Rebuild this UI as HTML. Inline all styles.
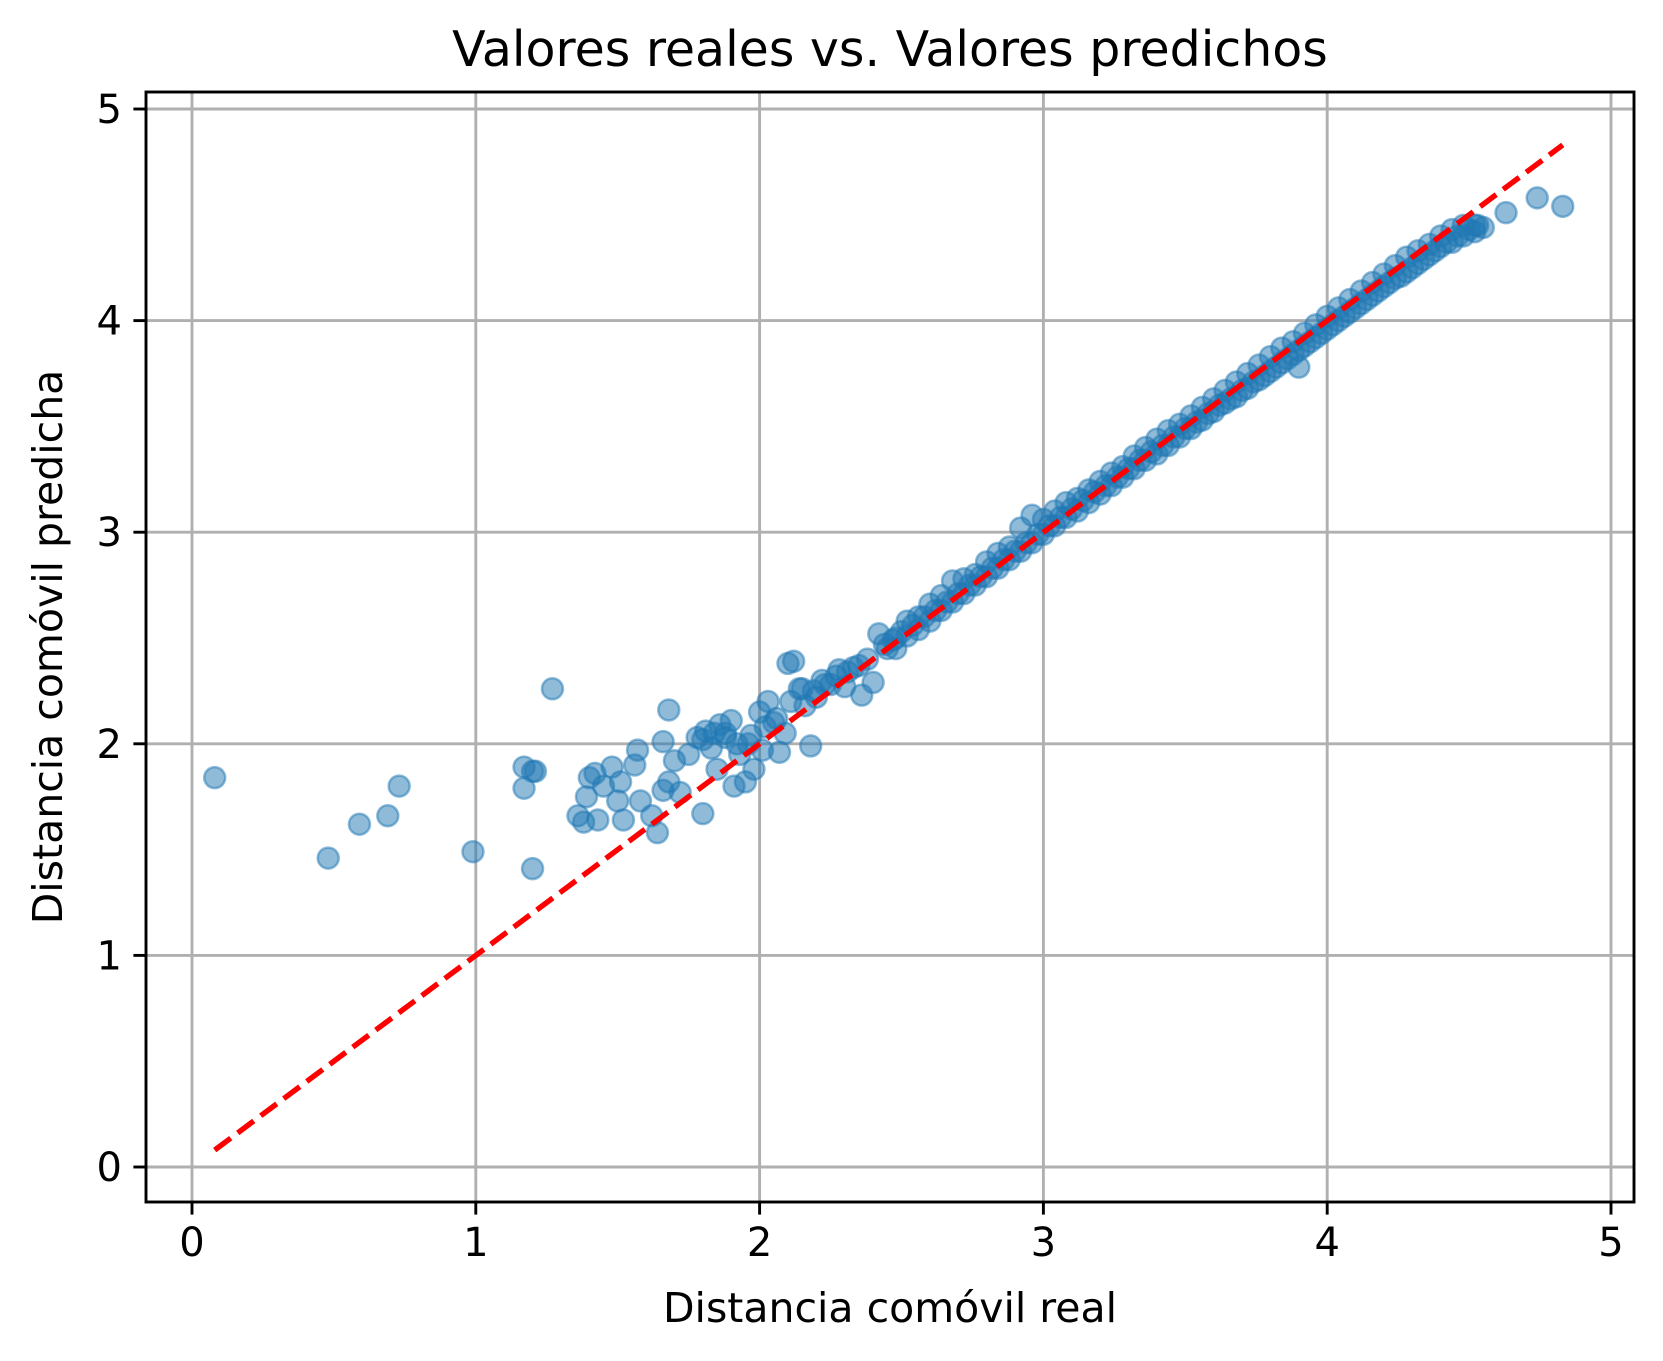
<!DOCTYPE html>
<html><head><meta charset="utf-8"><style>
html,body{margin:0;padding:0;background:#fff;}
svg{display:block;font-family:"DejaVu Sans","Liberation Sans",sans-serif;}
</style></head><body>
<svg id="chart" width="1663" height="1361" viewBox="0 0 1663 1361">
<rect x="0" y="0" width="1663" height="1361" fill="#fff"/>
<g id="grid"></g>
<g id="points"></g>
<g id="ideal"></g>
<rect x="146" y="92" width="1488" height="1110" fill="none" stroke="#000" stroke-width="2.9"/>
<g id="ticks"></g>
<text x="890" y="66" text-anchor="middle" font-size="49">Valores reales vs. Valores predichos</text>
<text x="890" y="1322" text-anchor="middle" font-size="41">Distancia comóvil real</text>
<text x="0" y="0" transform="translate(62,647) rotate(-90)" text-anchor="middle" font-size="41">Distancia comóvil predicha</text>
</svg>
<script>
const xTicks=[0,1,2,3,4,5];
const yTicks=[0,1,2,3,4,5];
const lineRange=[0.08,4.83];
const realX=[0.08,0.48,0.59,0.69,0.73,0.99,1.17,1.17,1.20,1.21,1.20,1.27,1.36,1.38,1.39,1.40,1.42,1.43,1.45,1.48,1.50,1.51,1.52,1.56,1.57,1.58,1.62,1.64,1.66,1.66,1.68,1.68,1.70,1.72,1.75,1.78,1.80,1.81,1.83,1.85,1.86,1.88,1.90,1.91,1.93,1.95,1.96,1.98,2.00,2.01,2.03,2.05,2.07,2.09,2.10,2.12,2.14,2.16,2.18,2.20,2.22,2.25,2.28,2.30,2.33,2.36,2.40,2.42,2.45,
2.48,2.48,2.52,2.52,2.56,2.56,2.60,2.60,2.64,2.64,2.68,2.68,2.72,2.72,2.76,2.76,2.80,2.80,2.84,2.84,2.88,2.88,2.92,2.92,2.96,2.96,3.00,3.00,3.04,3.04,3.08,3.08,3.12,3.12,3.16,3.16,3.20,3.20,3.24,3.24,3.28,3.28,3.32,3.32,3.36,3.36,3.40,3.40,3.44,3.44,3.48,3.48,3.52,3.52,3.56,3.56,3.60,3.60,3.64,3.64,3.68,3.68,3.72,3.72,3.76,3.76,3.80,3.80,3.84,3.84,3.88,3.88,3.92,3.92,3.96,3.96,4.00,4.00,4.04,4.04,4.08,4.08,4.12,4.12,4.16,4.16,4.20,4.20,4.24,4.24,4.28,4.28,4.32,4.32,4.36,4.36,4.40,4.40,4.44,4.44,4.48,4.48,4.52,4.52,4.55,3.90,4.63,4.74,4.83,
1.80,1.84,1.88,1.92,1.97,2.02,2.06,2.11,2.15,2.19,2.23,2.27,2.31,2.35,2.38,2.44,2.47,2.50,2.54,2.58,2.62,2.66,2.70,2.74,2.78,2.82,2.86,2.90,2.94,2.98,3.02,3.06,3.10,3.14,3.18,3.22,3.26,3.30,3.34,3.38,3.42,3.46,3.50,3.54,3.58,3.62,3.66,3.70,3.74,3.78,3.82,3.86,3.90,3.94,3.98,4.02,4.06,4.10,4.14,4.18,4.22,4.26,4.30,4.34,4.38,4.42,4.46,4.50,4.53];
const predY=[1.84,1.46,1.62,1.66,1.80,1.49,1.89,1.79,1.87,1.87,1.41,2.26,1.66,1.63,1.75,1.84,1.86,1.64,1.80,1.89,1.73,1.82,1.64,1.90,1.97,1.73,1.66,1.58,2.01,1.78,2.16,1.82,1.92,1.77,1.95,2.03,1.67,2.06,1.98,1.88,2.09,2.05,2.11,1.80,1.95,1.82,2.00,1.88,2.15,1.97,2.20,2.10,1.96,2.05,2.38,2.39,2.26,2.18,1.99,2.22,2.30,2.28,2.35,2.27,2.36,2.23,2.29,2.52,2.45,
2.50,2.45,2.58,2.51,2.60,2.54,2.66,2.58,2.70,2.63,2.77,2.67,2.78,2.71,2.80,2.75,2.86,2.79,2.90,2.83,2.93,2.87,3.02,2.91,3.08,2.95,3.06,2.99,3.10,3.03,3.14,3.07,3.16,3.10,3.20,3.14,3.24,3.18,3.28,3.22,3.31,3.26,3.36,3.30,3.40,3.34,3.44,3.37,3.48,3.41,3.51,3.45,3.55,3.49,3.59,3.53,3.63,3.57,3.67,3.61,3.71,3.64,3.75,3.68,3.79,3.72,3.83,3.76,3.87,3.80,3.90,3.84,3.94,3.88,3.98,3.92,4.02,3.96,4.06,4.00,4.10,4.04,4.14,4.08,4.18,4.12,4.22,4.16,4.26,4.20,4.30,4.23,4.33,4.27,4.36,4.31,4.40,4.35,4.43,4.37,4.45,4.40,4.45,4.42,4.44,3.78,4.51,4.58,4.54,
2.02,2.05,2.03,2.00,2.04,2.08,2.12,2.20,2.26,2.25,2.28,2.32,2.34,2.37,2.40,2.47,2.49,2.53,2.56,2.60,2.63,2.67,2.71,2.75,2.79,2.83,2.87,2.91,2.95,2.99,3.03,3.07,3.11,3.15,3.19,3.22,3.26,3.30,3.34,3.38,3.41,3.45,3.49,3.52,3.56,3.60,3.63,3.67,3.71,3.74,3.78,3.82,3.86,3.90,3.94,3.98,4.02,4.06,4.10,4.14,4.18,4.21,4.25,4.29,4.33,4.37,4.40,4.43,4.45];
const NS='http://www.w3.org/2000/svg';
const X0=192,XU=283.8,Y0=1167,YU=211.6;
function sx(v){return X0+v*XU;}
function sy(v){return Y0-v*YU;}
function mk(tag,attrs,parent){const e=document.createElementNS(NS,tag);for(const k in attrs)e.setAttribute(k,attrs[k]);parent.appendChild(e);return e;}
const grid=document.getElementById('grid'),ticks=document.getElementById('ticks'),pts=document.getElementById('points'),ideal=document.getElementById('ideal');
xTicks.forEach(t=>{
  const g=mk('line',{x1:sx(t),x2:sx(t),y1:92,y2:1202,stroke:'#b0b0b0','stroke-width':2.9},grid);
  
  
  const tk=mk('line',{x1:sx(t),x2:sx(t),y1:1202,y2:1214.6,stroke:'#000','stroke-width':2.9},ticks);
  
  
  const tl=mk('text',{x:sx(t),y:1256,'text-anchor':'middle','font-size':40},ticks);
  tl.textContent=t;
  
  
});
yTicks.forEach(t=>{
  const g=mk('line',{x1:146,x2:1634,y1:sy(t),y2:sy(t),stroke:'#b0b0b0','stroke-width':2.9},grid);
  
  
  const tk=mk('line',{x1:133.4,x2:146,y1:sy(t),y2:sy(t),stroke:'#000','stroke-width':2.9},ticks);
  
  
  const tl=mk('text',{x:122,y:sy(t)+14,'text-anchor':'end','font-size':40},ticks);
  tl.textContent=t;
  
  
});
realX.forEach((v,i)=>{
  const c=mk('circle',{cx:sx(v),cy:sy(predY[i]),r:10.5,fill:'rgba(31,119,180,0.5)',stroke:'rgba(31,119,180,0.5)','stroke-width':2.5},pts);
  
  
});
const l=mk('line',{x1:sx(lineRange[0]),y1:sy(lineRange[0]),x2:sx(lineRange[1]),y2:sy(lineRange[1]),stroke:'#ff0000','stroke-width':5.4,'stroke-dasharray':'20 8.7'},ideal);


</script>
</body></html>
